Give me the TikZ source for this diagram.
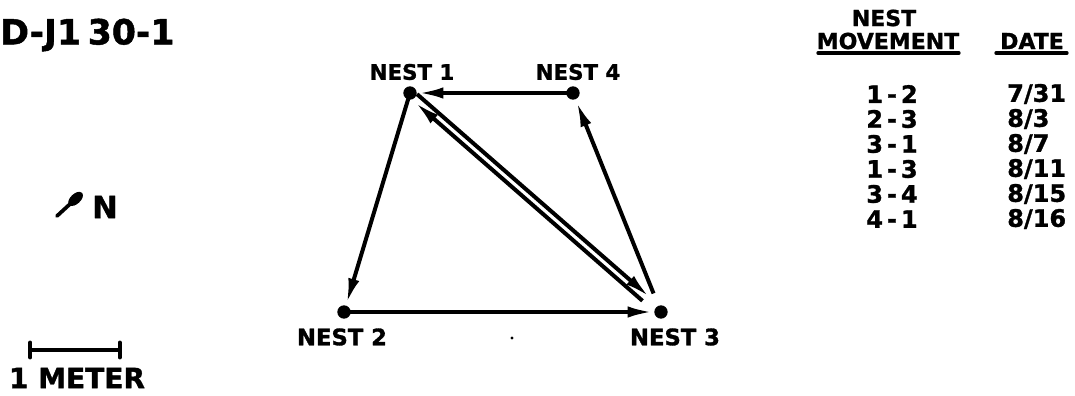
\documentclass[tikz,border=0pt]{standalone}
\usepackage{fontspec}
\setmainfont{DejaVu Sans}[BoldFeatures={FakeBold=1.3}]
\usetikzlibrary{arrows.meta,calc}
\begin{document}
\begin{tikzpicture}[x=0.75pt,y=-0.75pt,
  nest/.style={circle,fill=black,inner sep=0pt,minimum size=10pt},
  toplbl/.style={font=\bfseries\fontsize{16}{18}\selectfont,inner sep=0pt},
  botlbl/.style={font=\bfseries\fontsize{17}{19}\selectfont,inner sep=0pt},
  rowtxt/.style={font=\bfseries\fontsize{18}{20}\selectfont,inner sep=0pt},
  headtxt/.style={font=\bfseries\fontsize{16.5}{18}\selectfont,inner sep=0pt},
  bigtxt/.style={font=\bfseries\fontsize{26}{28}\selectfont,inner sep=0pt},
  mv/.style={line width=3pt,-{Latex[length=19pt,width=8.5pt]}},
  plain/.style={line width=3pt,line cap=round}]
\useasboundingbox (0,0) rectangle (1075,396);

% title
\node[bigtxt,anchor=west] (title) at (0,35) {D-J1\kern5pt30-1};

% north arrow
\node[font=\bfseries\fontsize{23}{25}\selectfont,inner sep=0pt] (north) at (105,207) {N};
\coordinate (nA) at (57,216);
\coordinate (nB) at (82,193);
\draw[line width=2.8pt,line cap=round,-{Circle[length=13pt,width=7.5pt]}] (nA) -- (nB);

% scale bar
\coordinate (sA) at (28,350);
\coordinate (sB) at (122,350);
\draw[line width=3.2pt,{Bar[width=11pt,line cap=round]}-{Bar[width=11pt,line cap=round]}] (sA) -- (sB);
\node[font=\bfseries\fontsize{21}{23}\selectfont,inner sep=0pt] (meter) at (77,378) {1 METER};

% nests
\node[nest] (n1) at (410,93) {};
\node[nest] (n4) at (573,93) {};
\node[nest] (n2) at (344,312) {};
\node[nest] (n3) at (661,312) {};
\node[toplbl] (l1) at (412,72) {NEST 1};
\node[toplbl] (l4) at (578,72) {NEST 4};
\node[botlbl] (l2) at (342,337) {NEST 2};
\node[botlbl] (l3) at (675,337) {NEST 3};

% movements
\draw[mv,shorten >=6.5pt] (n1.center) -- (n2.center);
\draw[mv,shorten >=6pt] (n2.center) -- (n3.center);
\draw[mv,shorten <=4.5pt,shorten >=14pt]
  ($(n1.center)!2.8pt!90:(n3.center)$) -- ($(n3.center)!2.8pt!-90:(n1.center)$);
\draw[mv,shorten <=16pt,shorten >=7.5pt]
  ($(n3.center)!2.8pt!90:(n1.center)$) -- ($(n1.center)!2.8pt!-90:(n3.center)$);
\draw[mv,shorten <=15pt,shorten >=7pt] (n3.center) -- (n4.center);
\draw[mv,shorten >=6pt] (n4.center) -- (n1.center);

% speck
\fill (512,338) circle (1.2pt);

% table
\node[headtxt] (hnest) at (884,18) {NEST};
\node[headtxt] (hmov) at (888,41) {MOVEMENT};
\node[headtxt] (hdate) at (1032,41) {DATE};
\draw[line width=2.5pt,line cap=round] (818,53) -- (959,53);
\draw[line width=2.5pt,line cap=round] (996,53) -- (1067,53);

\node[rowtxt] (m1) at (892,94)  {1\,-\,2};
\node[rowtxt] (m2) at (892,119) {2\,-\,3};
\node[rowtxt] (m3) at (892,144) {3\,-\,1};
\node[rowtxt] (m4) at (892,169) {1\,-\,3};
\node[rowtxt] (m5) at (892,194) {3\,-\,4};
\node[rowtxt] (m6) at (892,219) {4\,-\,1};
\node[rowtxt,anchor=west] (d1) at (1007,94)  {7/31};
\node[rowtxt,anchor=west] (d2) at (1007,119) {8/3};
\node[rowtxt,anchor=west] (d3) at (1007,144) {8/7};
\node[rowtxt,anchor=west] (d4) at (1007,169) {8/11};
\node[rowtxt,anchor=west] (d5) at (1007,194) {8/15};
\node[rowtxt,anchor=west] (d6) at (1007,219) {8/16};
\end{tikzpicture}
\end{document}
